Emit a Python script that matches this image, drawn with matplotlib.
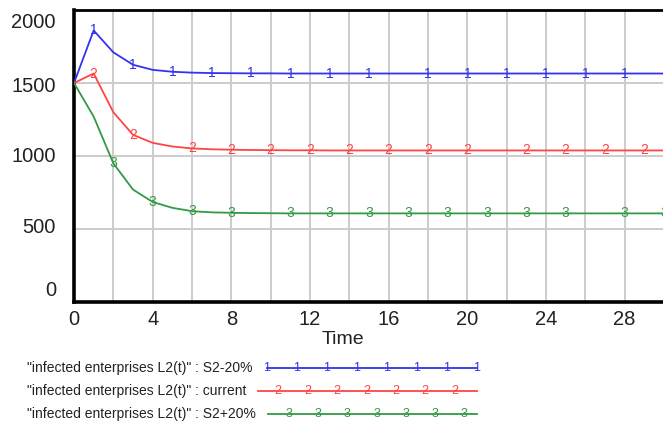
import matplotlib
matplotlib.use("Agg")
import matplotlib.pyplot as plt
from matplotlib.lines import Line2D
import numpy as np

plt.rcParams['font.family'] = ['Liberation Sans', 'DejaVu Sans']

time = list(range(0, 31))
s2_minus = [1500, 1860, 1710, 1625, 1590, 1577, 1571, 1568, 1567, 1566, 1566,
            1565, 1565, 1565, 1565, 1565, 1565, 1565, 1565, 1565, 1565,
            1565, 1565, 1565, 1565, 1565, 1565, 1565, 1565, 1565, 1565]
current = [1500, 1565, 1300, 1145, 1090, 1065, 1052, 1046, 1043, 1041, 1040,
           1039, 1039, 1038, 1038, 1038, 1038, 1038, 1038, 1038, 1038,
           1038, 1038, 1038, 1038, 1038, 1038, 1038, 1038, 1038, 1038]
s2_plus = [1500, 1270, 950, 770, 685, 645, 622, 614, 611, 609, 608,
           607, 607, 607, 607, 607, 607, 607, 607, 607, 607,
           607, 607, 607, 607, 607, 607, 607, 607, 607, 607]

marks_1 = [1, 3, 5, 7, 9, 11, 13, 15, 18, 20, 22, 24, 26, 28]
marks_2 = [1, 3, 6, 8, 10, 12, 14, 16, 18, 20, 23, 25, 27, 29]
marks_3 = [2, 4, 6, 8, 11, 13, 15, 17, 19, 21, 23, 25, 28, 30]

y_ticks = [0, 500, 1000, 1500, 2000]
y_tick_labels = ['0', '500', '1000', '1500', '2000']
x_ticks = [0, 4, 8, 12, 16, 20, 24, 28]

labels = ['"infected enterprises L2(t)" : S2-20%',
          '"infected enterprises L2(t)" : current',
          '"infected enterprises L2(t)" : S2+20%']
colors = ['#3333ee', '#ff4444', '#339944']
digits = ['1', '2', '3']

W, H = 663, 423
fig = plt.figure(figsize=(W / 100, H / 100), dpi=100)
ax = fig.add_axes([74 / W, 1 - 302 / H, 590 / W, 292 / H])

series = [s2_minus, current, s2_plus]
marks = [marks_1, marks_2, marks_3]
for vals, mk, c, d in zip(series, marks, colors, digits):
    ax.plot(time, vals, color=c, lw=1.3, zorder=3)
    for t in mk:
        v = np.interp(t, time, vals)
        ax.text(t, v, d, color=c, fontsize=10, ha='center', va='center',
                zorder=4, clip_on=True)

ax.set_xlim(0, 30)
ax.set_ylim(0, 2000)
ax.set_xticks(x_ticks)
ax.set_xticks(range(0, 31, 2), minor=True)
ax.set_yticks(y_ticks)
ax.set_yticklabels([])
ax.grid(True, which='both', axis='x', color='#cccccc', lw=1.4)
ax.grid(True, which='major', axis='y', color='#cccccc', lw=1.4)
ax.tick_params(which='both', length=0, labelsize=14.5, colors='#222222')
ax.tick_params(axis='x', pad=6)
for s in ['left', 'bottom']:
    ax.spines[s].set_linewidth(2.6)
ax.spines['top'].set_linewidth(2.0)
ax.spines['right'].set_visible(False)
ax.set_axisbelow(True)

# y tick labels: Vensim pulls the end labels inward
label_pix_y = [291, 227, 157, 87, 22]
for lab, py in zip(y_tick_labels, label_pix_y):
    fig.text(56 / W, 1 - py / H, lab, ha='right', va='center', fontsize=14.5,
             color='#222222')

fig.text(343 / W, 1 - 339 / H, 'Time', ha='center', va='center', fontsize=14,
         color='#222222')

rows_y = [368, 391, 414]
line_x = [(267, 477), (258, 477), (268, 477)]
mark_x = [[267, 297, 327, 357, 387, 417, 447, 477],
          [278, 308, 337, 367, 396, 425, 455],
          [289, 318, 347, 377, 406, 435, 464]]
for lab, c, d, y, (x0, x1), mx in zip(labels, colors, digits, rows_y, line_x, mark_x):
    fy = 1 - y / H
    fig.text(27 / W, fy, lab, ha='left', va='center', fontsize=10, color='#222222')
    fig.add_artist(Line2D([x0 / W, x1 / W], [fy, fy], color=c, lw=1.3,
                          transform=fig.transFigure))
    for x in mx:
        fig.text(x / W, fy, d, ha='center', va='center', fontsize=9, color=c)

fig.savefig('out.png', dpi=100)
